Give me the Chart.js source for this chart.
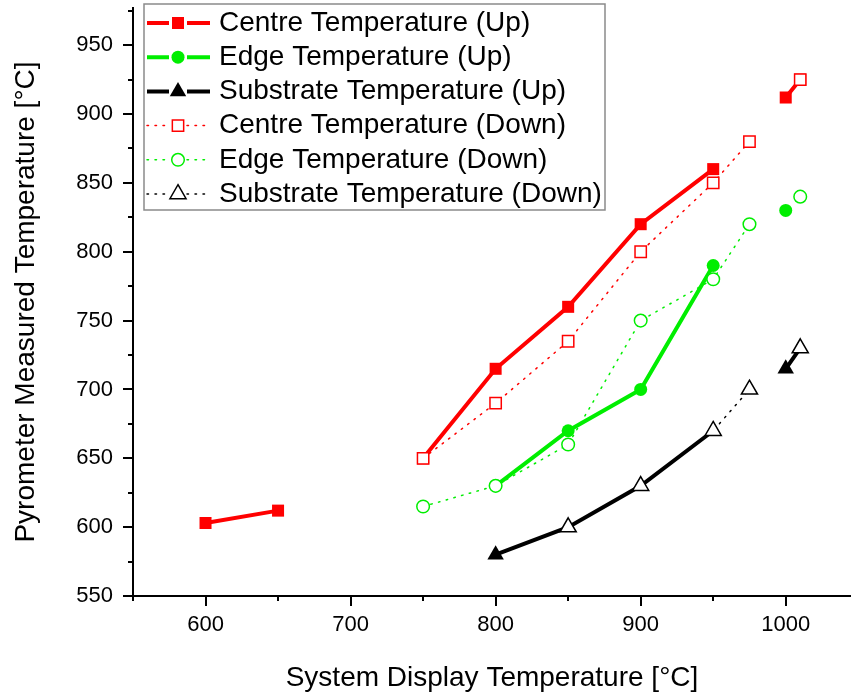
<!DOCTYPE html>
<html lang="en">
<head>
<meta charset="UTF-8">
<title>Pyrometer vs System Display Temperature</title>
<script src="https://cdn.jsdelivr.net/npm/chart.js@4"></script>
<style>
  html, body { margin: 0; padding: 0; background: #fff; }
  #wrap { width: 851px; height: 694px; }
</style>
</head>
<body>
<div id="wrap"><canvas id="chart" width="851" height="694"></canvas></div>
<script>
// system display temperature (x) and pyrometer reading (y); null = break in the line
const centreUpX = [600, 650, 700, 750, 800, 850, 900, 950, 975, 1000, 1010];
const centreUpY = [603, 612, null, 650, 715, 760, 820, 860, null, 912, 925];
const edgeUpX = [800, 850, 900, 950, 975, 1000];
const edgeUpY = [630, 670, 700, 790, null, 830];
const substrateUpX = [800, 850, 900, 950, 975, 1000, 1010];
const substrateUpY = [580, 600, 630, 670, null, 715, 730];

const centreDownX = [750, 800, 850, 900, 950, 975, 1000, 1010];
const centreDownY = [650, 690, 735, 800, 850, 880, null, 925];
const edgeDownX = [750, 800, 850, 900, 950, 975, 1000, 1010];
const edgeDownY = [615, 630, 660, 750, 780, 820, null, 840];
const substrateDownX = [850, 900, 950, 975, 1000, 1010];
const substrateDownY = [600, 630, 670, 700, null, 730];

const seriesLabels = [
  'Centre Temperature (Up)', 'Edge Temperature (Up)', 'Substrate Temperature (Up)',
  'Centre Temperature (Down)', 'Edge Temperature (Down)', 'Substrate Temperature (Down)'
];

// axis ticks, an empty label means a minor tick
const xTicks = [550, 600, 650, 700, 750, 800, 850, 900, 950, 1000];
const xTickLabels = ['', '600', '', '700', '', '800', '', '900', '', '1000'];
const yTicks = [550, 575, 600, 625, 650, 675, 700, 725, 750, 775, 800, 825, 850, 875, 900, 925, 950, 975];
const yTickLabels = ['550', '', '600', '', '650', '', '700', '', '750', '', '800', '', '850', '', '900', '', '950', ''];

const FONT = "'Liberation Sans', Arial, sans-serif";
const RED = '#ff0000', GREEN = '#00ee00', BLACK = '#000000';

function toPoints(xs, ys) {
  return xs.map((x, i) => ({ x: x, y: ys[i] }));
}

function upSeries(label, xs, ys, color, style, radius) {
  return {
    label: label,
    data: toPoints(xs, ys),
    borderColor: color,
    borderWidth: 4,
    pointStyle: style,
    pointRadius: radius,
    pointBackgroundColor: color,
    pointBorderColor: color,
    pointBorderWidth: 0,
    order: 1
  };
}

function downSeries(label, xs, ys, color, style, radius) {
  return {
    label: label,
    data: toPoints(xs, ys),
    borderColor: color,
    borderWidth: 1.5,
    borderDash: [1.5, 6.5],
    borderCapStyle: 'round',
    pointStyle: style,
    pointRadius: radius,
    pointBackgroundColor: '#ffffff',
    pointBorderColor: color,
    pointBorderWidth: 1.5,
    order: 0
  };
}

// outward major / minor tick marks
const tickMarks = {
  id: 'tickMarks',
  afterDraw(chart) {
    const ctx = chart.ctx;
    const xs = chart.scales.x, ys = chart.scales.y;
    ctx.save();
    ctx.strokeStyle = '#000';
    ctx.lineWidth = 2;
    ctx.beginPath();
    xTicks.forEach((v, i) => {
      const px = Math.round(xs.getPixelForValue(v));
      const len = xTickLabels[i] ? 10 : 5;
      ctx.moveTo(px, xs.top);
      ctx.lineTo(px, xs.top + len);
    });
    yTicks.forEach((v, i) => {
      const py = Math.round(ys.getPixelForValue(v));
      const len = yTickLabels[i] ? 10 : 5;
      ctx.moveTo(ys.right, py);
      ctx.lineTo(ys.right - len, py);
    });
    ctx.stroke();
    ctx.restore();
  }
};

// boxed legend with line + marker samples
const boxLegend = {
  id: 'boxLegend',
  afterDraw(chart) {
    const ctx = chart.ctx;
    const area = chart.chartArea;
    const bx = area.left + 11, by = 4, bw = 461, bh = 206;
    ctx.save();
    ctx.fillStyle = '#fff';
    ctx.fillRect(bx, by, bw, bh);
    ctx.strokeStyle = '#8a8a8a';
    ctx.lineWidth = 1.5;
    ctx.strokeRect(bx, by, bw, bh);

    chart.data.datasets.forEach((ds, i) => {
      const cy = by + 19 + i * 34.2;
      const mx = bx + 34;
      ctx.save();
      ctx.strokeStyle = ds.borderColor;
      ctx.lineWidth = ds.borderWidth;
      ctx.lineCap = ds.borderCapStyle || 'butt';
      ctx.setLineDash(ds.borderDash || []);
      ctx.beginPath();
      ctx.moveTo(bx + 3, cy);
      ctx.lineTo(mx - 9, cy);
      ctx.moveTo(mx + 9, cy);
      ctx.lineTo(bx + 66, cy);
      ctx.stroke();
      ctx.restore();

      ctx.save();
      ctx.fillStyle = ds.pointBackgroundColor;
      ctx.strokeStyle = ds.pointBorderColor;
      ctx.lineWidth = ds.pointBorderWidth;
      Chart.helpers.drawPoint(ctx, {
        pointStyle: ds.pointStyle,
        radius: ds.pointRadius,
        rotation: 0,
        borderWidth: ds.pointBorderWidth
      }, mx, cy);
      ctx.restore();

      ctx.fillStyle = '#000';
      ctx.font = '28px ' + FONT;
      ctx.textBaseline = 'middle';
      ctx.textAlign = 'left';
      ctx.fillText(ds.label, bx + 75, cy);
    });
    ctx.restore();
  }
};

new Chart(document.getElementById('chart'), {
  type: 'line',
  data: {
    datasets: [
      upSeries(seriesLabels[0], centreUpX, centreUpY, RED, 'rect', 8.5),
      upSeries(seriesLabels[1], edgeUpX, edgeUpY, GREEN, 'circle', 6.5),
      upSeries(seriesLabels[2], substrateUpX, substrateUpY, BLACK, 'triangle', 9.5),
      downSeries(seriesLabels[3], centreDownX, centreDownY, RED, 'rect', 8),
      downSeries(seriesLabels[4], edgeDownX, edgeDownY, GREEN, 'circle', 6.3),
      downSeries(seriesLabels[5], substrateDownX, substrateDownY, BLACK, 'triangle', 9.3)
    ]
  },
  options: {
    responsive: false,
    animation: false,
    spanGaps: false,
    layout: { autoPadding: false, padding: { top: 8, right: 0, left: 0, bottom: 0 } },
    plugins: {
      legend: { display: false },
      tooltip: { enabled: false }
    },
    scales: {
      x: {
        type: 'linear',
        min: 550,
        max: 1045,
        afterBuildTicks: (scale) => { scale.ticks = xTicks.map(v => ({ value: v })); },
        afterFit: (scale) => {
          scale.height = 98;
          scale.paddingLeft = 0;
          scale.paddingRight = 0;
        },
        ticks: {
          autoSkip: false,
          maxRotation: 0,
          padding: 6,
          color: '#000',
          font: { family: FONT, size: 22 },
          callback: (v, i) => xTickLabels[i]
        },
        grid: { drawOnChartArea: false, tickLength: 10, tickColor: 'rgba(0,0,0,0)' },
        border: { display: true, color: '#000', width: 2 },
        title: {
          display: true,
          text: 'System Display Temperature [°C]',
          color: '#000',
          font: { family: FONT, size: 28, lineHeight: 1 },
          padding: { top: 0, bottom: 2 }
        }
      },
      y: {
        type: 'linear',
        min: 550,
        max: 977,
        afterBuildTicks: (scale) => { scale.ticks = yTicks.map(v => ({ value: v })); },
        afterFit: (scale) => {
          scale.width = 133;
          scale.paddingTop = 0;
          scale.paddingBottom = 0;
        },
        ticks: {
          autoSkip: false,
          padding: 10,
          color: '#000',
          font: { family: FONT, size: 22 },
          callback: (v, i) => yTickLabels[i]
        },
        grid: { drawOnChartArea: false, tickLength: 10, tickColor: 'rgba(0,0,0,0)' },
        border: { display: true, color: '#000', width: 2 },
        title: {
          display: true,
          text: 'Pyrometer Measured Temperature [°C]',
          color: '#000',
          font: { family: FONT, size: 28, lineHeight: 1.2 },
          padding: { top: 9, bottom: 0 }
        }
      }
    }
  },
  plugins: [tickMarks, boxLegend]
});
</script>
</body>
</html>
